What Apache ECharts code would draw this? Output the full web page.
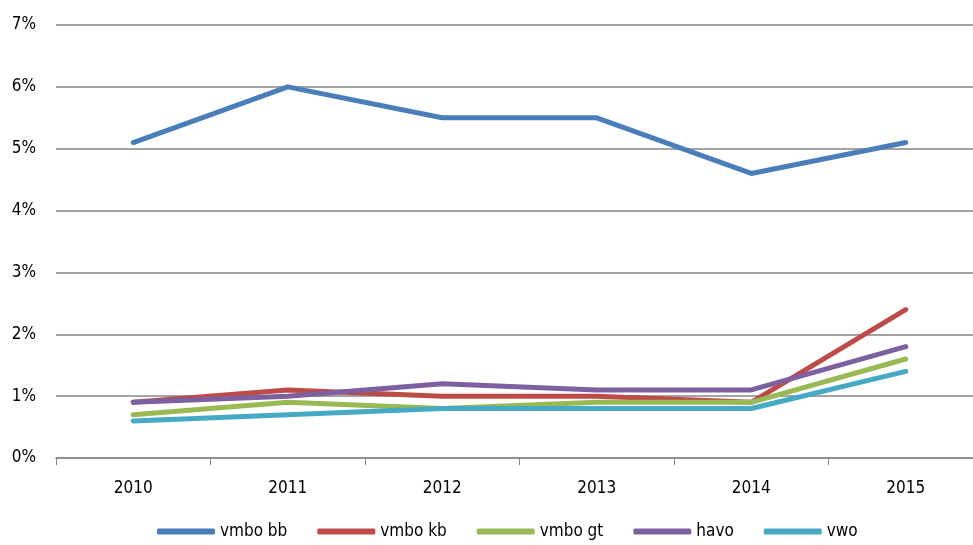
<!DOCTYPE html>
<html><head><meta charset="utf-8">
<script src="https://cdn.jsdelivr.net/npm/echarts@6/dist/echarts.min.js"></script>
<style>html,body{margin:0;padding:0;background:#fff;overflow:hidden;width:973px;height:545px}#c{width:983px;height:545px}</style>
</head><body><div id="c"></div>
<script>
const years = ['2010','2011','2012','2013','2014','2015'];
const vmboBB = [5.1, 6.0, 5.5, 5.5, 4.6, 5.1];
const vmboKB = [0.9, 1.1, 1.0, 1.0, 0.9, 2.4];
const vmboGT = [0.7, 0.9, 0.8, 0.9, 0.9, 1.6];
const havo   = [0.9, 1.0, 1.2, 1.1, 1.1, 1.8];
const vwo    = [0.6, 0.7, 0.8, 0.8, 0.8, 1.4];
const names  = ['vmbo bb','vmbo kb','vmbo gt','havo','vwo'];
const colors = ['#4a7ebb','#be4b48','#98b954','#7d60a0','#46aac5'];
const font = '"Liberation Sans Narrow","DejaVu Sans Condensed",sans-serif';
const chart = echarts.init(document.getElementById('c'));
const mk = (name, data, i) => ({
  name, type:'line', data, showSymbol:false, symbol:'none',
  lineStyle:{width:5, color:colors[i], cap:'round', join:'round'},
  itemStyle:{color:colors[i]}, animation:false
});
chart.setOption({
  animation:false,
  textStyle:{fontFamily:font},
  grid:{left:56, right:0, top:25, bottom:87},
  xAxis:{type:'category', data:years, boundaryGap:true,
    axisLine:{lineStyle:{color:'#868686', width:1.5}},
    axisTick:{show:true, length:7, lineStyle:{color:'#868686'}},
    axisLabel:{color:'#000', fontSize:17, margin:22, fontFamily:font}},
  yAxis:{type:'value', min:0, max:7, interval:1,
    axisLine:{show:false}, axisTick:{show:false},
    splitLine:{lineStyle:{color:'#868686', width:1.5}},
    axisLabel:{color:'#000', fontSize:17, margin:20, fontFamily:font, formatter:v=>v+'%'}},
  legend:{bottom:0, left:152, icon:'roundRect', itemWidth:58, itemHeight:6, itemGap:30,
    textStyle:{fontSize:17, color:'#000', fontFamily:font},
    data:names},
  series:[mk(names[0],vmboBB,0), mk(names[1],vmboKB,1), mk(names[2],vmboGT,2), mk(names[3],havo,3), mk(names[4],vwo,4)]
});
</script></body></html>
